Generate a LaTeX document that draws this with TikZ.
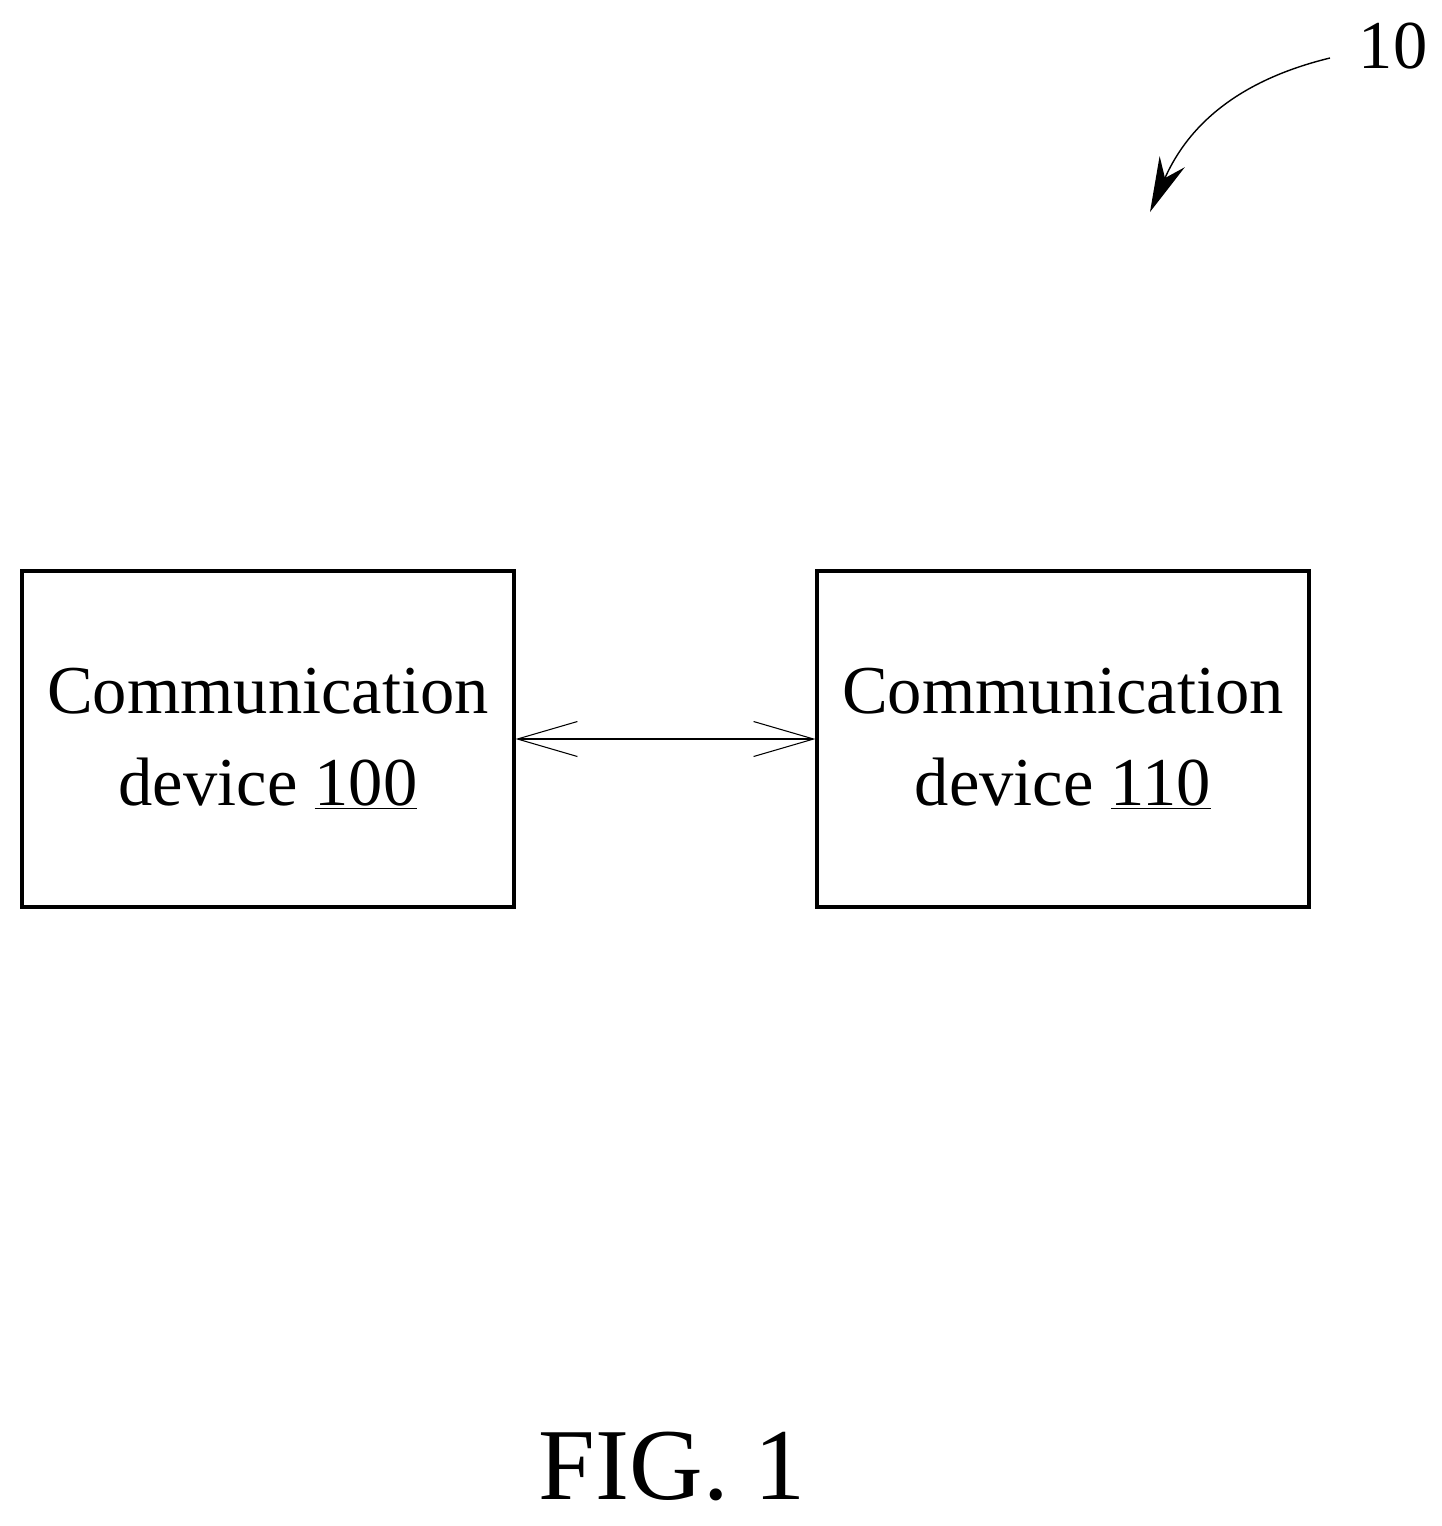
\documentclass[tikz,border=0pt]{standalone}
\usepackage{fontspec}
\setmainfont{Liberation Serif}
\usetikzlibrary{arrows.meta,positioning}
\tikzset{
  device/.style={draw, line width=1.8pt, minimum width=9.84cm, minimum height=6.72cm,
    align=center, font=\fontsize{39}{52}\selectfont, inner sep=0pt},
  link/.style={line width=0.6pt, {Straight Barb[length=1.2cm, width=0.7cm, line width=0.6pt]}-{Straight Barb[length=1.2cm, width=0.7cm, line width=0.6pt]}}
}
\begin{document}
\begin{tikzpicture}[x=0.02cm, y=-0.02cm]
    \useasboundingbox (0,0) rectangle (1442,1526);

    % devices
    \node[device] (dev100) at (268,739) {Communication\\device \underline{100}};
    \node[device, right=6.0cm of dev100] (dev110) {Communication\\device \underline{110}};

    \draw[link] (dev100.east) -- (dev110.west);

    % reference label
    \node[font=\fontsize{39}{46}\selectfont] (ref) at (1393,46) {10};
    \coordinate (tip) at (1150,212);
    \draw[line width=0.8pt, -{Stealth[length=1.1cm, width=0.55cm]}]
      (1330,58) .. controls (1260,75) and (1195,110) .. (tip);

    \node[font=\fontsize{58}{66}\selectfont] (fig) at (672,1466) {FIG. 1};
\end{tikzpicture}
\end{document}
